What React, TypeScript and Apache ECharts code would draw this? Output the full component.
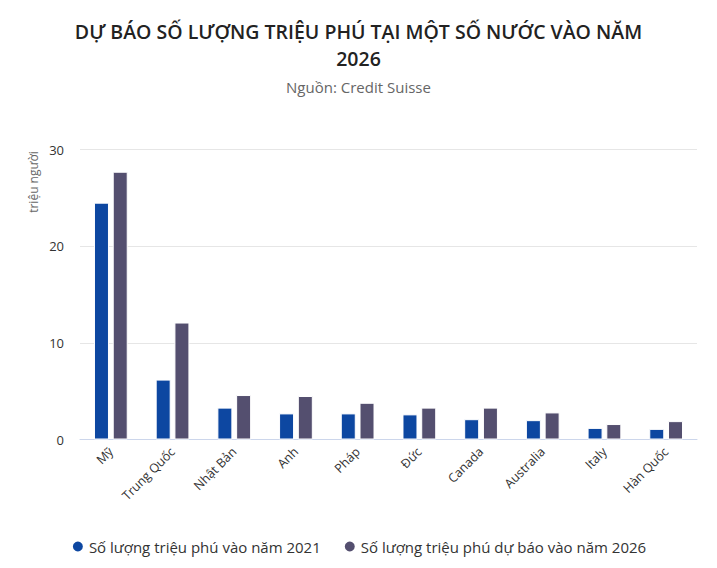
import React, { useEffect, useRef } from "react";
import * as echarts from "echarts";

const categories = ["Mỹ", "Trung Quốc", "Nhật Bản", "Anh", "Pháp", "Đức", "Canada", "Australia", "Italy", "Hàn Quốc"];
const values2021 = [24.5, 6.2, 3.3, 2.7, 2.7, 2.6, 2.1, 2.0, 1.2, 1.1];
const values2026 = [27.7, 12.1, 4.6, 4.5, 3.8, 3.3, 3.3, 2.8, 1.6, 1.9];
const seriesNames = ["Số lượng triệu phú vào năm 2021", "Số lượng triệu phú dự báo vào năm 2026"];
const titleLines = ["DỰ BÁO SỐ LƯỢNG TRIỆU PHÚ TẠI MỘT SỐ NƯỚC VÀO NĂM", "2026"];
const subtitle = "Nguồn: Credit Suisse";
const yTicks = { min: 0, max: 30, interval: 10 };

const FONT = "'Open Sans', 'Noto Sans', sans-serif";

export default function App() {
  const ref = useRef<HTMLDivElement>(null);
  useEffect(() => {
    if (!ref.current) return;
    const chart = echarts.init(ref.current, undefined, { renderer: "svg" });
    const titleStyle = { fontFamily: FONT, fontSize: 19.5, fontWeight: 600, color: "#222222", lineHeight: 22 };
    chart.setOption({
      animation: false,
      backgroundColor: "#ffffff",
      textStyle: { fontFamily: FONT },
      title: [
        { text: titleLines[0], left: "center", top: 20, padding: 0, textStyle: titleStyle },
        { text: titleLines[1], left: "center", top: 47, padding: 0, textStyle: titleStyle },
        {
          text: subtitle,
          left: "center",
          top: 78,
          padding: 0,
          textStyle: { fontFamily: FONT, fontSize: 15, fontWeight: "normal", color: "#666666", lineHeight: 18 },
        },
      ],
      legend: {
        top: 534,
        left: "center",
        icon: "circle",
        itemWidth: 12,
        itemHeight: 12,
        itemGap: 22,
        textStyle: { fontFamily: FONT, fontSize: 15, color: "#333333" },
        data: seriesNames,
      },
      grid: { left: 80, right: 20, top: 149.5, bottom: 128.5, containLabel: false },
      xAxis: {
        type: "category",
        data: categories,
        axisLine: { lineStyle: { color: "#ccd6eb" } },
        axisTick: { show: false },
        axisLabel: { rotate: 45, fontSize: 12.5, color: "#333333", margin: 10, fontFamily: FONT, interval: 0 },
      },
      yAxis: {
        type: "value",
        min: yTicks.min,
        max: yTicks.max,
        interval: yTicks.interval,
        axisLine: { show: false },
        axisTick: { show: false },
        splitLine: { lineStyle: { color: "#e6e6e6" } },
        axisLabel: { fontSize: 13, color: "#333333", margin: 16, fontFamily: FONT },
      },
      graphic: [
        {
          type: "text",
          x: 33,
          y: 182,
          rotation: Math.PI / 2,
          style: {
            text: "triệu người",
            fill: "#666666",
            font: `12px ${FONT}`,
            textAlign: "center",
            textVerticalAlign: "middle",
          },
        },
      ],
      series: [
        {
          name: seriesNames[0],
          type: "bar",
          data: values2021,
          barWidth: 15,
          barGap: "25%",
          itemStyle: { color: "#0d47a1", borderColor: "#ffffff", borderWidth: 1 },
        },
        {
          name: seriesNames[1],
          type: "bar",
          data: values2026,
          barWidth: 15,
          itemStyle: { color: "#544f6f", borderColor: "#ffffff", borderWidth: 1 },
        },
      ],
    });
    return () => chart.dispose();
  }, []);
  return <div ref={ref} style={{ position: "fixed", left: 0, top: 0, width: 717, height: 568 }} />;
}
